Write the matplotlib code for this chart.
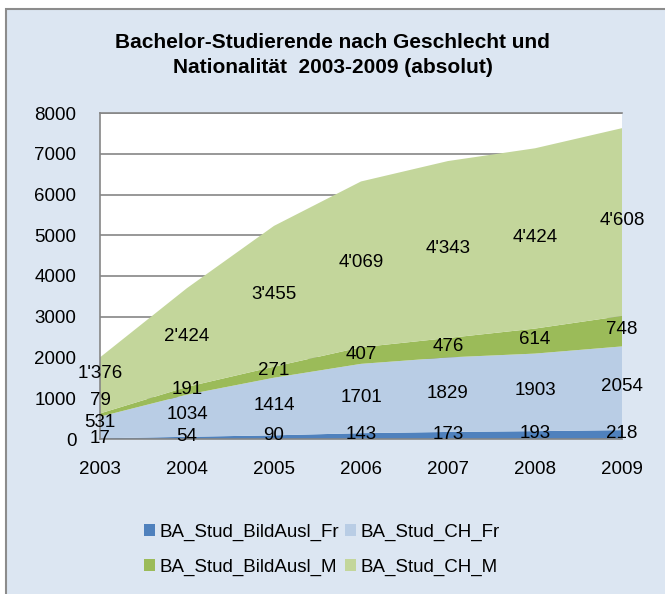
import matplotlib
matplotlib.use("Agg")
import matplotlib.pyplot as plt
from matplotlib.patches import Patch, Rectangle
import numpy as np

plt.rcParams["font.family"] = ["Liberation Sans", "DejaVu Sans"]

years = ["2003", "2004", "2005", "2006", "2007", "2008", "2009"]
series_names = ["BA_Stud_BildAusl_Fr", "BA_Stud_CH_Fr", "BA_Stud_BildAusl_M", "BA_Stud_CH_M"]
bildausl_fr = [17, 54, 90, 143, 173, 193, 218]
ch_fr = [531, 1034, 1414, 1701, 1829, 1903, 2054]
bildausl_m = [79, 191, 271, 407, 476, 614, 748]
ch_m = [1376, 2424, 3455, 4069, 4343, 4424, 4608]
colors = ["#4F81BD", "#B9CDE5", "#9BBB59", "#C3D69B"]

BG = "#DCE6F2"
GRID = "#868686"
FS = 13.5

fig = plt.figure(figsize=(6.65, 5.94), dpi=100)
fig.patch.set_facecolor("white")
# chart-area background with grey frame (only top/left inside the picture)
bg = Rectangle((6 / 665, -0.05), 1.1, 0.05 + (594 - 8.5) / 594, transform=fig.transFigure,
               facecolor=BG, edgecolor="#8C8C8C", linewidth=1.5, zorder=-10)
fig.patches.append(bg)

ax = fig.add_axes([100 / 665, (594 - 439) / 594, 522 / 665, 326 / 594])
ax.set_zorder(1)
ax.set_facecolor("white")

x = np.arange(len(years))
data = np.array([bildausl_fr, ch_fr, bildausl_m, ch_m], dtype=float)
ax.stackplot(x, data, colors=colors, linewidth=0, zorder=2)

ax.set_xlim(0, len(years) - 1)
ax.set_ylim(0, 8000)
ax.set_yticks(np.arange(0, 8001, 1000))
ax.set_xticks(x)
ax.set_xticklabels(years)
ax.yaxis.grid(True, color=GRID, linewidth=1.2, zorder=1)
ax.set_axisbelow(True)
ax.tick_params(axis="y", length=0, pad=17, labelsize=FS)
ax.tick_params(axis="x", length=0, pad=16, labelsize=FS)
for side in ["left", "top", "bottom"]:
    ax.spines[side].set_color(GRID)
    ax.spines[side].set_linewidth(1.2)
ax.spines["right"].set_visible(False)
for s in ax.spines.values():
    s.set_zorder(3)


def fmt(v, apostrophe):
    v = int(v)
    if apostrophe and v >= 1000:
        return f"{v // 1000}'{v % 1000:03d}"
    return str(v)


# data labels at the middle of each band; first column nudged up like Excel does
first_nudge = [0, 5, 15, 12]
cum = np.cumsum(data, axis=0)
for i in range(data.shape[0]):
    for j in range(len(years)):
        mid = cum[i, j] - data[i, j] / 2
        dy = first_nudge[i] * 0.72 if j == 0 else 1
        ax.annotate(fmt(data[i, j], i == 3), (x[j], mid), xytext=(0, dy),
                    textcoords="offset points", ha="center", va="center",
                    fontsize=FS, color="black", zorder=5, annotation_clip=False)

fig.text(0.5, 1 - 55 / 594, "Bachelor-Studierende nach Geschlecht und\nNationalität  2003-2009 (absolut)",
         ha="center", va="center", fontsize=15, fontweight="bold", linespacing=1.4)

handles = [Patch(facecolor=c, edgecolor="none") for c in colors]
order = [0, 2, 1, 3]
fig.legend([handles[k] for k in order], [series_names[k] for k in order],
           loc="center", bbox_to_anchor=(322 / 665, 1 - 550 / 594), ncol=2,
           frameon=False, fontsize=FS, handlelength=0.6, handleheight=0.6,
           handletextpad=0.25, columnspacing=0.3, labelspacing=0.95)

fig.savefig("out.png", dpi=100, facecolor=fig.get_facecolor())
